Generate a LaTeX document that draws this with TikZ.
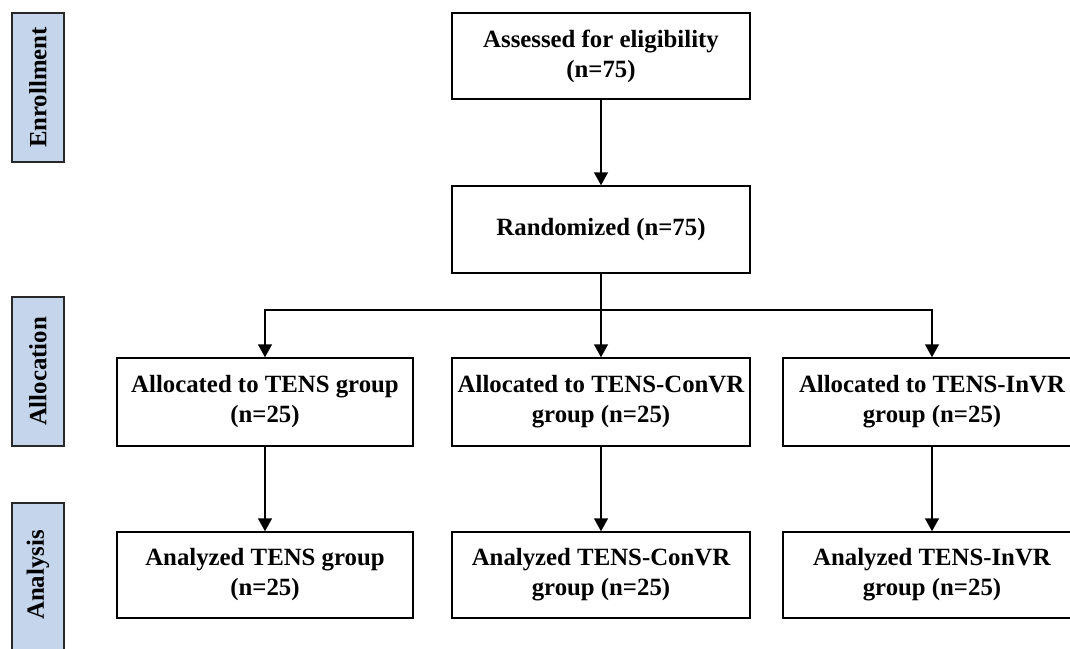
\documentclass[tikz,border=0pt]{standalone}
\usepackage{fontspec}
\setmainfont{Liberation Serif}
\usetikzlibrary{arrows.meta}
\definecolor{sidefill}{RGB}{197,214,236}
\definecolor{sidedraw}{RGB}{40,40,40}
\tikzset{
  box/.style={draw=black, line width=1.5pt, fill=white, align=center, inner sep=0pt,
    font=\fontsize{24.8}{30}\selectfont\bfseries},
  sidebox/.style={draw=sidedraw, line width=1.8pt, fill=sidefill, inner sep=0pt,
    minimum width=52pt, minimum height=149pt},
  sidetext/.style={rotate=90, inner sep=0pt, font=\fontsize{24.8}{28}\selectfont\bfseries},
  conn/.style={line width=1.5pt, draw=black},
  arr/.style={conn, -{Triangle[width=14pt,length=13pt]}}
}
\begin{document}
\begin{tikzpicture}[x=1pt,y=-1pt]
\useasboundingbox (0,0) rectangle (1070,648);
\clip (0,0) rectangle (1070,648);
\fill[white] (0,0) rectangle (1070,648);
% side labels
\node[sidebox] (s1) at (38,87.5) {};
\node[sidetext] (s1t) at (s1.center) {Enrollment};
\node[sidebox] (s2) at (38,371.5) {};
\node[sidetext] (s2t) at (s2.center) {Allocation};
\node[sidebox] (s3) at (38,577.5) {};
\node[sidetext] (s3t) at (38,575) {Analysis};
% main boxes
\node[box, minimum width=298pt, minimum height=86pt] (top) at (601,56) {Assessed for eligibility\\(n=75)};
\node[box, minimum width=298pt, minimum height=87pt] (rand) at (601,229.5) {Randomized (n=75)};
\node[box, minimum width=296pt, minimum height=88pt] (a1) at (265,402) {Allocated to TENS group\\(n=25)};
\node[box, minimum width=298pt, minimum height=88pt] (a2) at (601,402) {Allocated to TENS-ConVR\\group (n=25)};
\node[box, minimum width=298pt, minimum height=88pt] (a3) at (932,402) {Allocated to TENS-InVR\\group (n=25)};
\node[box, minimum width=296pt, minimum height=86pt] (n1) at (265,575) {Analyzed TENS group\\(n=25)};
\node[box, minimum width=298pt, minimum height=86pt] (n2) at (601,575) {Analyzed TENS-ConVR\\group (n=25)};
\node[box, minimum width=298pt, minimum height=86pt] (n3) at (932,575) {Analyzed TENS-InVR\\group (n=25)};
% connectors
\coordinate (br) at (601,310);
\draw[arr] (top) -- (rand);
\draw[arr] (rand) -- (a2);
\draw[arr] (br) -| (a1.north);
\draw[arr] (br) -| (a3.north);
\draw[arr] (a1) -- (n1);
\draw[arr] (a2) -- (n2);
\draw[arr] (a3) -- (n3);
\end{tikzpicture}
\end{document}
